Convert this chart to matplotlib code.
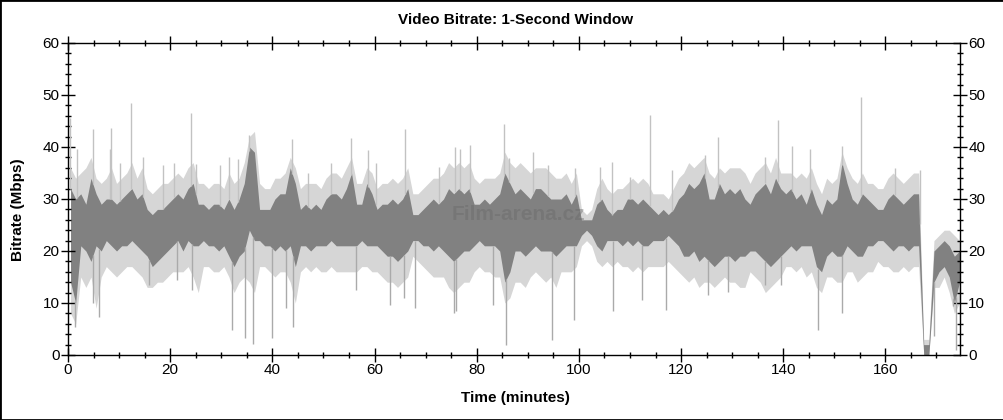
import matplotlib
matplotlib.use("Agg")
import matplotlib.pyplot as plt
import numpy as np
from matplotlib.patches import Rectangle
from matplotlib.ticker import MultipleLocator

# per-minute envelopes (Mbps)
minutes = np.arange(175) + 0.5

dark_hi = [32, 30, 31, 29, 34, 31, 29, 30, 30, 29,
           30, 31, 32, 30, 31, 28, 27, 28, 28, 29,
           30, 31, 30, 32, 33, 29, 29, 28, 29, 29,
           28, 30, 28, 30, 33, 40, 39, 28, 28, 28,
           30, 31, 31, 36, 33, 28, 29, 28, 29, 28,
           30, 31, 31, 30, 32, 35, 29, 29, 33, 31,
           28, 29, 29, 30, 29, 30, 32, 27, 27, 28,
           29, 30, 29, 30, 32, 31, 32, 31, 32, 29,
           29, 30, 29, 30, 31, 35, 33, 31, 32, 31,
           30, 32, 32, 31, 30, 30, 30, 31, 29, 31,
           26, 26, 26, 29, 30, 28, 27, 28, 28, 30,
           30, 29, 30, 29, 28, 27, 28, 27, 28, 30,
           31, 33, 32, 33, 35, 30, 30, 33, 31, 32,
           31, 32, 30, 29, 31, 32, 33, 31, 34, 32,
           31, 32, 30, 31, 29, 32, 29, 27, 30, 29,
           30, 37, 33, 30, 29, 31, 30, 29, 28, 28,
           30, 31, 30, 29, 30, 31, 31, 2, 2, 20,
           21, 22, 21, 19, 20]

dark_lo = [14, 10, 21, 20, 18, 21, 20, 22, 21, 20,
           21, 21, 22, 21, 20, 19, 17, 18, 19, 20,
           21, 22, 20, 22, 21, 21, 22, 21, 21, 20,
           21, 19, 17, 19, 20, 24, 22, 22, 21, 21,
           20, 21, 20, 21, 17, 21, 21, 20, 21, 21,
           21, 22, 21, 21, 21, 21, 21, 22, 21, 21,
           21, 20, 19, 19, 18, 19, 20, 22, 22, 21,
           21, 20, 21, 20, 19, 18, 19, 20, 20, 21,
           22, 21, 21, 21, 20, 14, 16, 20, 20, 19,
           20, 21, 20, 20, 20, 19, 20, 21, 21, 21,
           23, 24, 23, 21, 20, 22, 22, 22, 21, 22,
           21, 22, 21, 21, 22, 22, 22, 23, 22, 21,
           19, 19, 20, 18, 19, 18, 17, 18, 19, 19,
           18, 19, 19, 20, 20, 19, 18, 17, 18, 19,
           20, 21, 20, 21, 21, 21, 17, 16, 19, 20,
           19, 19, 21, 20, 19, 19, 21, 21, 22, 22,
           21, 20, 21, 21, 20, 21, 21, 0, 0, 14,
           16, 17, 15, 10, 14]

light_hi = [36, 34, 35, 36, 38, 34, 33, 34, 36, 33,
            34, 35, 37, 34, 36, 32, 31, 32, 33, 33,
            34, 35, 34, 36, 37, 33, 33, 32, 33, 33,
            32, 35, 33, 34, 37, 42, 43, 33, 32, 32,
            34, 34, 35, 38, 36, 32, 33, 33, 33, 32,
            34, 35, 35, 34, 36, 38, 33, 33, 36, 35,
            32, 33, 33, 34, 33, 34, 36, 31, 31, 32,
            33, 34, 34, 35, 37, 36, 37, 36, 37, 34,
            33, 34, 34, 34, 35, 39, 37, 36, 37, 36,
            35, 36, 36, 36, 35, 34, 34, 35, 33, 35,
            28, 27, 28, 32, 34, 32, 31, 32, 32, 33,
            34, 33, 34, 33, 31, 31, 31, 30, 32, 34,
            35, 37, 36, 37, 38, 35, 34, 36, 35, 36,
            36, 36, 35, 33, 35, 36, 37, 35, 38, 35,
            35, 35, 34, 35, 34, 36, 33, 31, 34, 33,
            34, 39, 36, 34, 33, 35, 33, 33, 32, 32,
            34, 35, 34, 33, 34, 35, 35, 3, 3, 22,
            23, 24, 24, 23, 22]

light_lo = [8, 6, 15, 13, 15, 9, 15, 17, 16, 15,
            16, 17, 17, 16, 15, 13, 13, 14, 14, 15,
            16, 16, 16, 17, 15, 12, 17, 17, 16, 16,
            17, 15, 12, 14, 15, 14, 12, 17, 17, 16,
            15, 16, 16, 14, 10, 16, 17, 16, 17, 16,
            16, 17, 16, 16, 16, 16, 16, 17, 17, 16,
            16, 15, 14, 14, 13, 14, 15, 19, 18, 17,
            16, 15, 15, 15, 13, 12, 13, 14, 14, 16,
            17, 16, 16, 15, 15, 10, 11, 14, 14, 13,
            15, 16, 15, 14, 15, 13, 16, 16, 16, 17,
            21, 22, 21, 18, 17, 18, 17, 18, 17, 17,
            16, 17, 16, 17, 17, 17, 17, 18, 17, 16,
            15, 14, 15, 13, 14, 14, 13, 14, 15, 14,
            14, 13, 13, 16, 15, 14, 12, 13, 14, 15,
            17, 17, 16, 17, 15, 16, 13, 12, 15, 15,
            14, 14, 16, 16, 14, 15, 16, 16, 18, 17,
            17, 16, 16, 17, 16, 17, 17, 0, 0, 13,
            13, 15, 12, 8, 10]

# isolated peaks and drops
spike_t = [0.3, 1.7, 4.9, 8.2, 8.5, 10.2, 12.4, 14.7, 18.5, 20.8, 24.0, 25.0,
           29.8, 31.5, 33.2, 35.4, 43.9, 47.0, 51.5, 55.4, 58.8, 60.2, 66.0,
           72.7, 75.8, 76.7, 78.7, 85.4, 86.4, 91.1, 94.0, 99.3, 104.2, 106.5,
           110.0, 113.9, 118.2, 124.7, 127.3, 136.5, 138.9, 141.7, 145.3,
           151.6, 155.3, 161.8, 166.7]
spike_top = [45.5, 39.6, 43.5, 39.6, 43.6, 37.0, 48.5, 38.0, 36.5, 37.0, 46.5, 36.8,
             36.5, 38.0, 37.7, 42.3, 41.5, 35.0, 37.0, 41.8, 39.4, 36.9, 43.4,
             36.2, 40.0, 39.6, 40.4, 44.5, 37.8, 39.1, 36.5, 35.9, 36.2, 37.2,
             34.3, 46.2, 35.5, 38.5, 41.9, 38.0, 45.2, 40.2, 39.6,
             40.2, 49.6, 35.9, 35.5]

dip_t = [1.4, 4.9, 6.1, 15.9, 21.4, 24.2, 32.1, 34.7, 36.2, 40.0, 42.6, 44.0,
         56.3, 63.0, 65.7, 67.9, 75.5, 75.9, 83.2, 85.8, 94.7, 99.0, 106.6,
         112.4, 117.0, 125.2, 129.1, 136.5, 139.6, 146.9, 151.6, 169.5, 173.3, 173.8]
dip_bottom = [5.4, 10.0, 7.4, 13.5, 14.4, 12.5, 4.8, 3.2, 2.2, 3.2, 9.0, 5.4,
              12.5, 9.6, 10.9, 9.0, 8.0, 8.4, 9.6, 1.9, 2.9, 6.7, 8.4,
              10.6, 8.7, 11.5, 12.2, 13.5, 13.5, 4.9, 8.0, 3.6, 9.5, 0.9]

LIGHT = '#d6d6d6'
DARK = '#818181'

plt.rcParams['font.family'] = ['Liberation Sans', 'DejaVu Sans']

fig = plt.figure(figsize=(10.04, 4.2), dpi=100)
ax = fig.add_axes([68 / 1004, 65 / 420, 892 / 1004, 312 / 420])

ax.fill_between(minutes, light_lo, light_hi, color=LIGHT, lw=0)
ax.vlines(spike_t, np.interp(spike_t, minutes, dark_hi), spike_top, color='#c2c2c2', lw=1.0)
ax.vlines(dip_t, dip_bottom, np.interp(dip_t, minutes, dark_lo), color='#aaaaaa', lw=1.0)
ax.fill_between(minutes, dark_lo, dark_hi, color=DARK, lw=0)

ax.set_xlim(0, 174.6)
ax.set_ylim(0, 60)
ax.xaxis.set_major_locator(MultipleLocator(20))
ax.xaxis.set_minor_locator(MultipleLocator(5))
ax.yaxis.set_major_locator(MultipleLocator(10))
ax.yaxis.set_minor_locator(MultipleLocator(2))
ax.tick_params(which='both', direction='inout', top=True, right=True,
               labelright=True, labelsize=11, colors='black', width=1)
ax.tick_params(which='major', length=10, pad=1)
ax.tick_params(which='minor', length=5)
for s in ax.spines.values():
    s.set_linewidth(1.0)

fig.text(0.514, 0.953, "Video Bitrate: 1-Second Window", ha='center', va='center',
         fontsize=11, fontweight='bold')
fig.text(0.513, 0.052, "Time (minutes)", ha='center', va='center',
         fontsize=11, fontweight='bold')
fig.text(0.018, 0.50, "Bitrate (Mbps)", ha='center', va='center', rotation=90,
         fontsize=11, fontweight='bold')

# watermark
ax.text(0.505, 0.45, "Film-arena.cz", transform=ax.transAxes, ha='center', va='center',
        fontsize=15, fontweight='bold', color='#6a6a6a', alpha=0.45)

fig.patches.append(Rectangle((0, 0), 1, 1, transform=fig.transFigure, fill=False,
                             edgecolor='black', lw=2))

fig.savefig("out.png", dpi=100)
